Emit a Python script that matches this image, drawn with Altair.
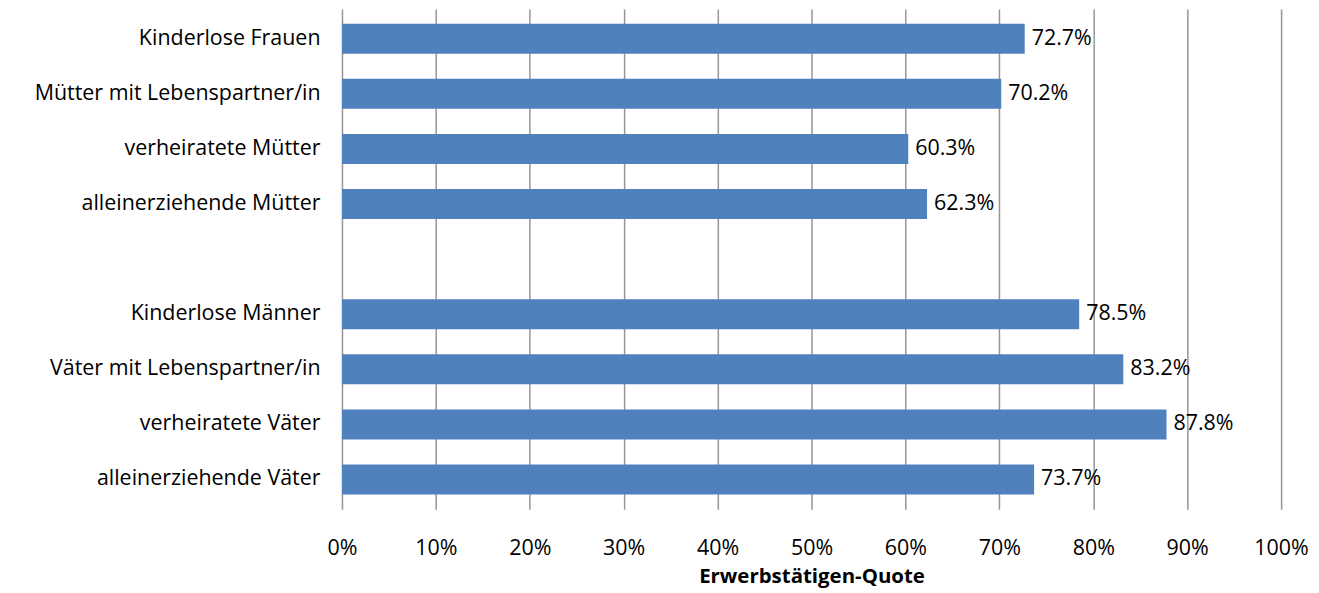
import altair as alt
import pandas as pd

categories = [
    "Kinderlose Frauen",
    "Mütter mit Lebenspartner/in",
    "verheiratete Mütter",
    "alleinerziehende Mütter",
    " ",
    "Kinderlose Männer",
    "Väter mit Lebenspartner/in",
    "verheiratete Väter",
    "alleinerziehende Väter",
]
values = [0.727, 0.702, 0.603, 0.623, None, 0.785, 0.832, 0.878, 0.737]
x_ticks = [0, 0.1, 0.2, 0.3, 0.4, 0.5, 0.6, 0.7, 0.8, 0.9, 1.0]

df = pd.DataFrame({"cat": categories, "val": values})

FONT = "Open Sans"
FS = 21.5

y_enc = alt.Y(
    "cat:N",
    sort=categories,
    scale=alt.Scale(domain=categories, paddingInner=0.457, paddingOuter=0.27),
    axis=alt.Axis(
        title=None, domain=False, ticks=False, labelPadding=22, labelLimit=0,
        labelFontSize=FS, labelFont=FONT, labelColor="#000000", grid=False,
    ),
)
x_enc = alt.X(
    "val:Q",
    scale=alt.Scale(domain=[0, 1], nice=False),
    axis=alt.Axis(
        values=x_ticks, format=".0%", title="Erwerbstätigen-Quote",
        titleFontSize=FS - 1, titleFont=FONT, titleFontWeight="bold", titleColor="#000000",
        titlePadding=8, labelFontSize=FS, labelFont=FONT, labelColor="#000000",
        labelPadding=28, labelFlush=False, ticks=False, domain=False, grid=True,
        gridColor="#969696", gridWidth=1.5,
    ),
)

bars = alt.Chart(df).mark_bar(color="#4F81BD").encode(x=x_enc, y=y_enc)
labels = alt.Chart(df).mark_text(
    align="left", baseline="middle", dx=7, fontSize=FS, font=FONT, color="#000000"
).encode(
    x=alt.X("val:Q"),
    y=alt.Y("cat:N", sort=categories),
    text=alt.Text("val:Q", format=".1%"),
)

chart = (
    alt.layer(bars, labels)
    .properties(
        width=942, height=502,
        background="#ffffff",
        autosize=alt.AutoSizeParams(type="none"),
        padding={"left": 335, "top": 0, "right": 30, "bottom": 80},
    )
    .configure_view(stroke="transparent", strokeWidth=0)
    .configure_axis(domain=False)
)

chart.save("out.html", embed_options={"renderer": "svg", "actions": False})
